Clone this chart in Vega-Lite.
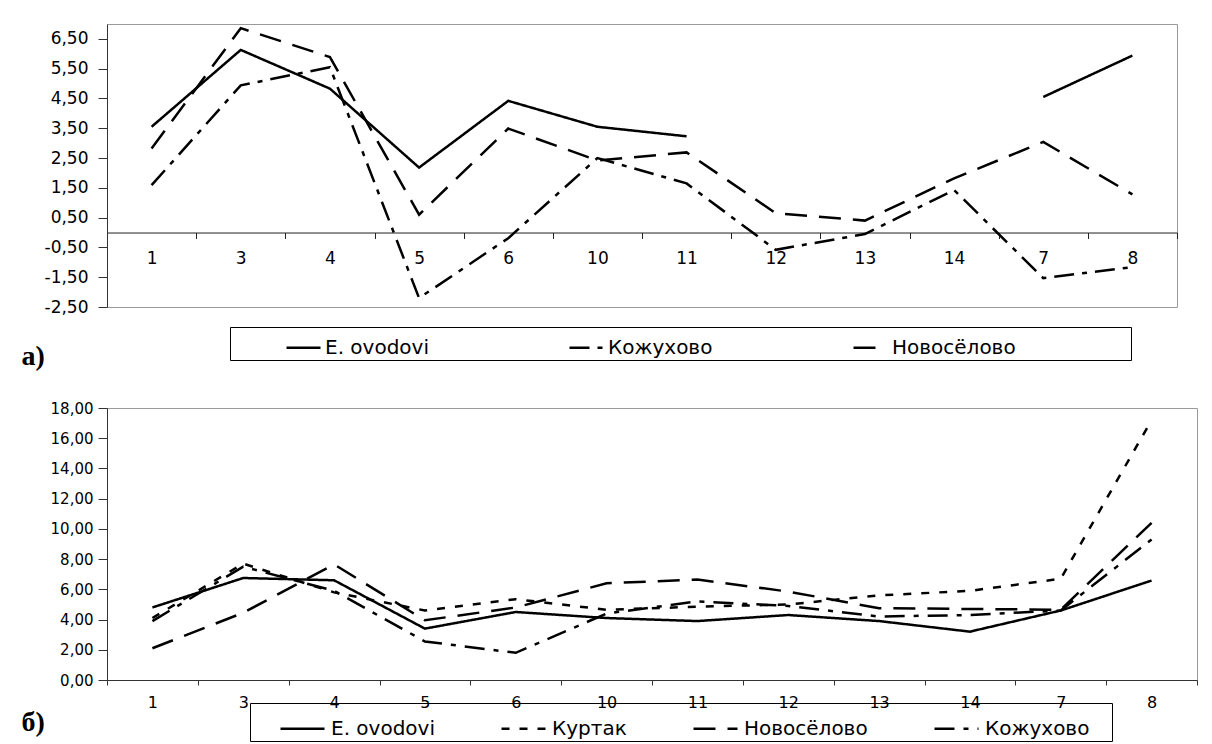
{
  "$schema": "https://vega.github.io/schema/vega-lite/v6.json",
  "padding": {"left": 20, "top": 22, "right": 0, "bottom": 0},
  "background": "white",
  "spacing": 29,
  "config": {
    "view": {"stroke": "#9a9a9a", "strokeWidth": 1},
    "axis": {"grid": false, "labelFont": "DejaVu Sans", "labelColor": "black", "domainColor": "#333", "tickColor": "#333"},
    "legend": {"labelFont": "DejaVu Sans", "labelColor": "black", "titleFont": "DejaVu Sans"}
  },
  "resolve": {"scale": {"x": "independent", "y": "independent", "strokeDash": "independent"}, "legend": {"strokeDash": "independent"}},
  "vconcat": [
    {
      "width": 1070,
      "height": 283,
      "data": {"values": [
        {"c": "1", "s": "E. ovodovi", "v": 3.55, "g": "o1"},
        {"c": "3", "s": "E. ovodovi", "v": 6.13, "g": "o1"},
        {"c": "4", "s": "E. ovodovi", "v": 4.83, "g": "o1"},
        {"c": "5", "s": "E. ovodovi", "v": 2.18, "g": "o1"},
        {"c": "6", "s": "E. ovodovi", "v": 4.42, "g": "o1"},
        {"c": "10", "s": "E. ovodovi", "v": 3.55, "g": "o1"},
        {"c": "11", "s": "E. ovodovi", "v": 3.23, "g": "o1"},
        {"c": "7", "s": "E. ovodovi", "v": 4.55, "g": "o2"},
        {"c": "8", "s": "E. ovodovi", "v": 5.94, "g": "o2"},
        {"c": "1", "s": "Кожухово", "v": 1.59, "g": "k"},
        {"c": "3", "s": "Кожухово", "v": 4.94, "g": "k"},
        {"c": "4", "s": "Кожухово", "v": 5.55, "g": "k"},
        {"c": "5", "s": "Кожухово", "v": -2.2, "g": "k"},
        {"c": "6", "s": "Кожухово", "v": -0.19, "g": "k"},
        {"c": "10", "s": "Кожухово", "v": 2.5, "g": "k"},
        {"c": "11", "s": "Кожухово", "v": 1.65, "g": "k"},
        {"c": "12", "s": "Кожухово", "v": -0.58, "g": "k"},
        {"c": "13", "s": "Кожухово", "v": -0.05, "g": "k"},
        {"c": "14", "s": "Кожухово", "v": 1.43, "g": "k"},
        {"c": "7", "s": "Кожухово", "v": -1.53, "g": "k"},
        {"c": "8", "s": "Кожухово", "v": -1.16, "g": "k"},
        {"c": "1", "s": "Новосёлово", "v": 2.82, "g": "n"},
        {"c": "3", "s": "Новосёлово", "v": 6.86, "g": "n"},
        {"c": "4", "s": "Новосёлово", "v": 5.89, "g": "n"},
        {"c": "5", "s": "Новосёлово", "v": 0.6, "g": "n"},
        {"c": "6", "s": "Новосёлово", "v": 3.49, "g": "n"},
        {"c": "10", "s": "Новосёлово", "v": 2.42, "g": "n"},
        {"c": "11", "s": "Новосёлово", "v": 2.69, "g": "n"},
        {"c": "12", "s": "Новосёлово", "v": 0.65, "g": "n"},
        {"c": "13", "s": "Новосёлово", "v": 0.4, "g": "n"},
        {"c": "14", "s": "Новосёлово", "v": 1.82, "g": "n"},
        {"c": "7", "s": "Новосёлово", "v": 3.04, "g": "n"},
        {"c": "8", "s": "Новосёлово", "v": 1.28, "g": "n"}
      ]},
      "mark": {"type": "line", "color": "black", "strokeWidth": 2.5, "strokeCap": "butt"},
      "encoding": {
        "x": {
          "field": "c", "type": "ordinal",
          "sort": ["1", "3", "4", "5", "6", "10", "11", "12", "13", "14", "7", "8"],
          "bandPosition": 0.5,
          "scale": {"type": "band", "paddingInner": 0, "paddingOuter": 0},
          "axis": {"title": null, "tickBand": "extent", "labelAngle": 0, "offset": -74.47, "tickSize": 6, "labelPadding": 12, "labelFontSize": 17, "domainColor": "#222", "tickColor": "#222"}
        },
        "y": {
          "field": "v", "type": "quantitative",
          "scale": {"domain": [-2.5, 7], "nice": false, "zero": false},
          "axis": {
            "values": [-2.5, -1.5, -0.5, 0.5, 1.5, 2.5, 3.5, 4.5, 5.5, 6.5],
            "labelExpr": "replace(replace(format(datum.value, '.2f'), '.', ','), '\u2212', '-')",
            "title": "а)", "titleX": -86, "titleY": 340, "titleAngle": 0, "titleAlign": "left", "titleBaseline": "alphabetic",
            "titleFont": "Liberation Serif", "titleFontWeight": "bold", "titleFontSize": 28, "titleColor": "black",
            "tickSize": 9, "labelPadding": 10, "labelFontSize": 17
          }
        },
        "strokeDash": {
          "field": "s", "type": "nominal",
          "scale": {"domain": ["E. ovodovi", "Кожухово", "Новосёлово"], "range": [[1, 0], [20, 8, 5, 8], [22, 12]]},
          "legend": {
            "title": "\u00a0", "titleOrient": "right", "titlePadding": 113, "titleFontSize": 2,
            "orient": "none", "legendX": 123, "legendY": 303, "direction": "horizontal",
            "padding": 2, "strokeColor": "black",
            "symbolType": "stroke", "symbolSize": 1156, "symbolStrokeWidth": 2.5, "symbolStrokeColor": "black",
            "symbolOffset": 53, "labelOffset": 3, "columnPadding": 86,
            "labelFontSize": 20, "labelLimit": 400
          }
        },
        "detail": {"field": "g"}
      }
    },
    {
      "width": 1090,
      "height": 272,
      "data": {"values": [
        {"c": "1", "s": "E. ovodovi", "v": 4.8},
        {"c": "3", "s": "E. ovodovi", "v": 6.75},
        {"c": "4", "s": "E. ovodovi", "v": 6.6},
        {"c": "5", "s": "E. ovodovi", "v": 3.4},
        {"c": "6", "s": "E. ovodovi", "v": 4.5},
        {"c": "10", "s": "E. ovodovi", "v": 4.1},
        {"c": "11", "s": "E. ovodovi", "v": 3.9},
        {"c": "12", "s": "E. ovodovi", "v": 4.3},
        {"c": "13", "s": "E. ovodovi", "v": 3.9},
        {"c": "14", "s": "E. ovodovi", "v": 3.2},
        {"c": "7", "s": "E. ovodovi", "v": 4.6},
        {"c": "8", "s": "E. ovodovi", "v": 6.58},
        {"c": "1", "s": "Куртак", "v": 4.1},
        {"c": "3", "s": "Куртак", "v": 7.7},
        {"c": "4", "s": "Куртак", "v": 5.8},
        {"c": "5", "s": "Куртак", "v": 4.6},
        {"c": "6", "s": "Куртак", "v": 5.35},
        {"c": "10", "s": "Куртак", "v": 4.65},
        {"c": "11", "s": "Куртак", "v": 4.85},
        {"c": "12", "s": "Куртак", "v": 5.0},
        {"c": "13", "s": "Куртак", "v": 5.6},
        {"c": "14", "s": "Куртак", "v": 5.9},
        {"c": "7", "s": "Куртак", "v": 6.7},
        {"c": "8", "s": "Куртак", "v": 17.2},
        {"c": "1", "s": "Новосёлово", "v": 2.1},
        {"c": "3", "s": "Новосёлово", "v": 4.45},
        {"c": "4", "s": "Новосёлово", "v": 7.65},
        {"c": "5", "s": "Новосёлово", "v": 3.95},
        {"c": "6", "s": "Новосёлово", "v": 4.8},
        {"c": "10", "s": "Новосёлово", "v": 6.4},
        {"c": "11", "s": "Новосёлово", "v": 6.65},
        {"c": "12", "s": "Новосёлово", "v": 5.85},
        {"c": "13", "s": "Новосёлово", "v": 4.75},
        {"c": "14", "s": "Новосёлово", "v": 4.7},
        {"c": "7", "s": "Новосёлово", "v": 4.65},
        {"c": "8", "s": "Новосёлово", "v": 10.4},
        {"c": "1", "s": "Кожухово", "v": 3.9},
        {"c": "3", "s": "Кожухово", "v": 7.5},
        {"c": "4", "s": "Кожухово", "v": 5.9},
        {"c": "5", "s": "Кожухово", "v": 2.55},
        {"c": "6", "s": "Кожухово", "v": 1.8},
        {"c": "10", "s": "Кожухово", "v": 4.4},
        {"c": "11", "s": "Кожухово", "v": 5.2},
        {"c": "12", "s": "Кожухово", "v": 4.9},
        {"c": "13", "s": "Кожухово", "v": 4.2},
        {"c": "14", "s": "Кожухово", "v": 4.3},
        {"c": "7", "s": "Кожухово", "v": 4.6},
        {"c": "8", "s": "Кожухово", "v": 9.3}
      ]},
      "mark": {"type": "line", "color": "black", "strokeWidth": 2.5, "strokeCap": "butt"},
      "encoding": {
        "x": {
          "field": "c", "type": "ordinal",
          "sort": ["1", "3", "4", "5", "6", "10", "11", "12", "13", "14", "7", "8"],
          "bandPosition": 0.5,
          "scale": {"type": "band", "paddingInner": 0, "paddingOuter": 0},
          "axis": {"title": null, "tickBand": "extent", "labelAngle": 0, "tickSize": 5, "labelPadding": 9, "labelFontSize": 16}
        },
        "y": {
          "field": "v", "type": "quantitative",
          "scale": {"domain": [0, 18], "nice": false, "zero": false},
          "axis": {
            "values": [0, 2, 4, 6, 8, 10, 12, 14, 16, 18],
            "labelExpr": "replace(format(datum.value, '.2f'), '.', ',')",
            "title": "б)", "titleX": -86, "titleY": 322, "titleAngle": 0, "titleAlign": "left", "titleBaseline": "alphabetic",
            "titleFont": "Liberation Serif", "titleFontWeight": "bold", "titleFontSize": 28, "titleColor": "black",
            "tickSize": 9, "labelPadding": 5, "labelFontSize": 15
          }
        },
        "strokeDash": {
          "field": "s", "type": "nominal",
          "scale": {"domain": ["E. ovodovi", "Куртак", "Новосёлово", "Кожухово"], "range": [[1, 0], [8, 10], [22, 12], [20, 9, 5, 9]]},
          "legend": {
            "title": "\u00a0", "titleOrient": "right", "titlePadding": 21, "titleFontSize": 2,
            "orient": "none", "legendX": 143, "legendY": 295, "direction": "horizontal",
            "padding": 2, "strokeColor": "black",
            "symbolType": "stroke", "symbolSize": 1936, "symbolStrokeWidth": 2.5, "symbolStrokeColor": "black",
            "symbolOffset": 27, "labelOffset": 5, "columnPadding": 38,
            "labelFontSize": 20, "labelLimit": 400
          }
        }
      }
    }
  ]
}
